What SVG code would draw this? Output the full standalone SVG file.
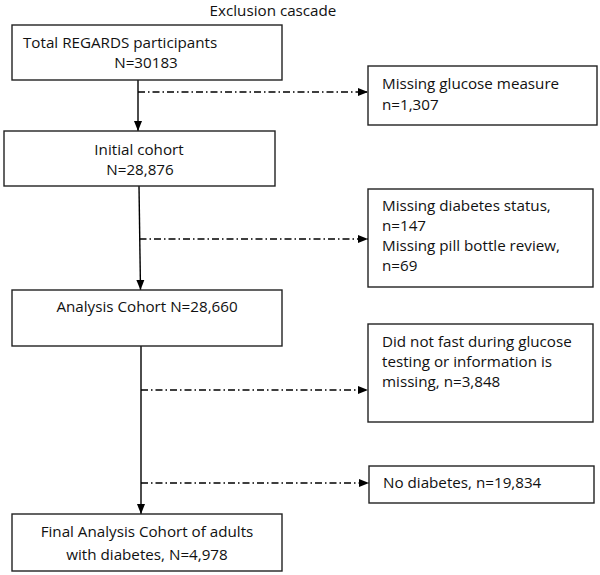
<svg xmlns="http://www.w3.org/2000/svg" width="600" height="575" viewBox="0 0 600 575">
  <style>
    text { font-family: "Open Sans", "Liberation Sans", Arial, sans-serif; font-size: 15.2px; fill: #111; }
    .box { fill: #fff; stroke: #222; stroke-width: 1.4; }
    .main { stroke: #000; stroke-width: 1.4; fill: none; }
    .excl { stroke: #000; stroke-width: 1.3; fill: none; stroke-dasharray: 7 3 1.5 3; }
    .c { text-anchor: middle; }
  </style>
  <defs>
    <marker id="ah" markerUnits="userSpaceOnUse" markerWidth="10" markerHeight="10" viewBox="0 0 10 10" refX="10" refY="5" orient="auto">
      <path d="M0,1 L10,5 L0,9 Z" fill="#000"/>
    </marker>
  </defs>
  <rect width="600" height="575" fill="#fff"/>
  <text x="273" y="16" class="c">Exclusion cascade</text>

  <g id="connectors">
    <line class="main" x1="138" y1="80" x2="138" y2="131" marker-end="url(#ah)"/>
    <line class="excl" x1="138" y1="92" x2="368" y2="92" marker-end="url(#ah)"/>
    <line class="main" x1="139" y1="186" x2="140.5" y2="290" marker-end="url(#ah)"/>
    <line class="excl" x1="139.5" y1="239" x2="368" y2="239" marker-end="url(#ah)"/>
    <line class="main" x1="141" y1="346" x2="141" y2="514" marker-end="url(#ah)"/>
    <line class="excl" x1="141" y1="390" x2="368" y2="390" marker-end="url(#ah)"/>
    <line class="excl" x1="141" y1="483" x2="369" y2="483" marker-end="url(#ah)"/>
  </g>

  <g id="total">
    <rect class="box" x="12" y="25" width="270" height="55"/>
    <text x="23" y="48">Total REGARDS participants</text>
    <text x="146" y="68" class="c">N=30183</text>
  </g>
  <g id="initial">
    <rect class="box" x="4" y="131" width="271" height="55"/>
    <text x="139" y="155" class="c">Initial cohort</text>
    <text x="140" y="175" class="c">N=28,876</text>
  </g>
  <g id="analysis">
    <rect class="box" x="12" y="290" width="270" height="56"/>
    <text x="147" y="312" class="c">Analysis Cohort N=28,660</text>
  </g>
  <g id="final">
    <rect class="box" x="12" y="514" width="270" height="57"/>
    <text x="147" y="537" class="c">Final Analysis Cohort of adults</text>
    <text x="147" y="560" class="c">with diabetes, N=4,978</text>
  </g>
  <g id="missing-glucose">
    <rect class="box" x="368" y="66" width="229" height="59"/>
    <text x="382" y="89">Missing glucose measure</text>
    <text x="382" y="110">n=1,307</text>
  </g>
  <g id="missing-diabetes">
    <rect class="box" x="368" y="189" width="225" height="98"/>
    <text x="382" y="211">Missing diabetes status,</text>
    <text x="382" y="231">n=147</text>
    <text x="382" y="251">Missing pill bottle review,</text>
    <text x="382" y="271">n=69</text>
  </g>
  <g id="not-fast">
    <rect class="box" x="368" y="324" width="225" height="98"/>
    <text x="382" y="347">Did not fast during glucose</text>
    <text x="382" y="367">testing or information is</text>
    <text x="382" y="387">missing, n=3,848</text>
  </g>
  <g id="no-diabetes">
    <rect class="box" x="369" y="466" width="225" height="37"/>
    <text x="383" y="488">No diabetes, n=19,834</text>
  </g>
</svg>
